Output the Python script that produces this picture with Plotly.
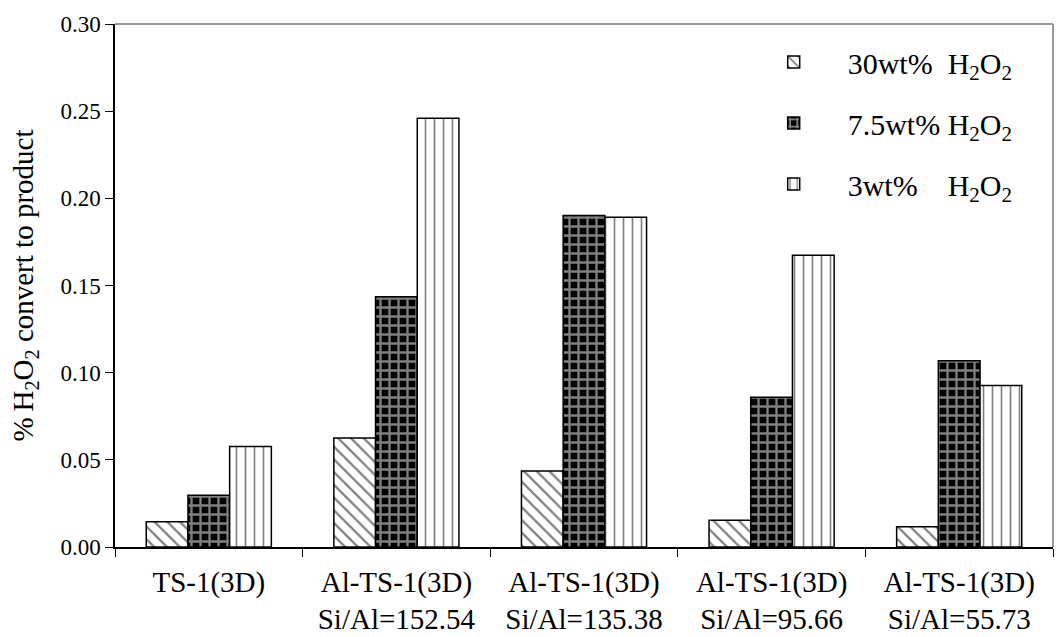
import plotly.graph_objects as go

categories = [
    "TS-1(3D)",
    "Al-TS-1(3D)<br>Si/Al=152.54",
    "Al-TS-1(3D)<br>Si/Al=135.38",
    "Al-TS-1(3D)<br>Si/Al=95.66",
    "Al-TS-1(3D)<br>Si/Al=55.73",
]
h2o2_30 = [0.0145, 0.0625, 0.0436, 0.0154, 0.0116]
h2o2_7_5 = [0.0297, 0.1436, 0.1901, 0.0859, 0.1069]
h2o2_3 = [0.0577, 0.2459, 0.1891, 0.1673, 0.0926]

series_names = [
    "30wt%\u00a0\u00a0H<sub>2</sub>O<sub>2</sub>",
    "7.5wt%\u00a0H<sub>2</sub>O<sub>2</sub>",
    "3wt%\u00a0\u00a0\u00a0\u00a0H<sub>2</sub>O<sub>2</sub>",
]
y_ticks = [0.00, 0.05, 0.10, 0.15, 0.20, 0.25, 0.30]

FONT = "Liberation Serif"

patterns = [
    dict(shape="\\", fgcolor="black", bgcolor="white", size=9, solidity=0.25),
    dict(shape="+", fgcolor="white", bgcolor="black", size=9, solidity=0.45),
    dict(shape="|", fgcolor="black", bgcolor="white", size=9, solidity=0.18),
]

fig = go.Figure()
for i, (name, vals) in enumerate(zip(series_names, [h2o2_30, h2o2_7_5, h2o2_3])):
    fig.add_trace(go.Bar(
        x=categories, y=vals, name=name, legendgroup=f"g{i}",
        marker=dict(color="white", pattern=patterns[i],
                    line=dict(color="black", width=1.5)),
    ))

fig.update_layout(
    width=1056, height=637,
    margin=dict(l=115, r=3, t=24, b=90),
    paper_bgcolor="white", plot_bgcolor="white",
    barmode="group", bargap=0.333, bargroupgap=0,
    font=dict(family=FONT, color="black", size=24),
    showlegend=True,
    legend=dict(x=0.666, y=0.977, xanchor="left", yanchor="top",
                font=dict(family=FONT, size=30, color="black"),
                bgcolor="rgba(0,0,0,0)", borderwidth=0,
                tracegroupgap=19, itemwidth=98),
    xaxis=dict(
        type="category", showline=True, linecolor="black", linewidth=1.5,
        ticks="outside", ticklen=8, tickcolor="black", tickson="boundaries",
        tickfont=dict(family=FONT, size=29), showgrid=False, zeroline=False,
        automargin=False, ticklabelstandoff=8,
    ),
    yaxis=dict(
        range=[0, 0.30], tickvals=y_ticks, tickformat=".2f",
        showline=True, linecolor="black", linewidth=1.5,
        ticks="outside", ticklen=8, tickcolor="black",
        tickfont=dict(family=FONT, size=23), showgrid=False, zeroline=False,
        automargin=False,
    ),
    shapes=[
        dict(type="line", xref="paper", yref="paper", x0=0, x1=1, y0=1, y1=1,
             line=dict(color="#999999", width=2)),
        dict(type="line", xref="paper", yref="paper", x0=1, x1=1, y0=0, y1=1,
             line=dict(color="#999999", width=2)),
    ],
    annotations=[
        dict(text="%\u2009H<sub>2</sub>O<sub>2</sub> convert to product",
             xref="paper", yref="paper", x=-0.097, y=0.5,
             xanchor="center", yanchor="middle", textangle=-90,
             showarrow=False, font=dict(family=FONT, size=29, color="black")),
    ],
)

post = (
    "document.body.style.margin='0';"
    "document.body.style.overflow='hidden';"
    "var gd=document.getElementById('{plot_id}');"
    "Plotly.relayout(gd,{width:1056,height:637});"
)

fig.write_html("out.html", post_script=post, config={"displayModeBar": False})
